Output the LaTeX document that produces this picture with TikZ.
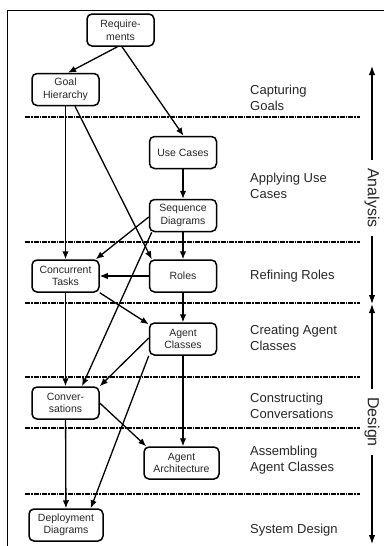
\documentclass[tikz,border=0pt]{standalone}
\usepackage{fontspec}
\setmainfont{Liberation Sans}
\usetikzlibrary{arrows.meta}

\tikzset{
  stagebox/.style={draw, line width=1.5pt, rounded corners=5pt, minimum width=67pt, minimum height=32pt, inner sep=1pt, align=center, text=black!85, font=\fontsize{10.5}{12.5}\selectfont},
  phase/.style={anchor=west, align=left, inner sep=0pt, text=black!85, font=\fontsize{13}{16.5}\selectfont},
  flow/.style={line width=1.3pt, -{Latex[length=8pt,width=6.5pt]}},
  divider/.style={line width=1.1pt, dash pattern=on 5pt off 1pt on 1.5pt off 1pt},
  sidelabel/.style={rotate=-90, inner xsep=8pt, inner ysep=0pt, text=black!85, font=\fontsize{16}{18}\selectfont},
  sidearrow/.style={line width=1.2pt, -{Latex[length=9pt,width=6.5pt]}}
}

\begin{document}
\begin{tikzpicture}[x=1pt, y=-1pt]
    \useasboundingbox (0,0) rectangle (384,546);
    \draw[line width=0.8pt] (7,546) -- (7,10) -- (384,10);

    \foreach \y in {117,242,303,377,428,494}
        \draw[divider] (25,\y) -- (360,\y);

    \node[stagebox] (req)      at (120.5,30)  {Require-\\ments};
    \node[stagebox] (goals)    at (65.5,89.5) {Goal\\Hierarchy};
    \node[stagebox] (usecases) at (183,152.5) {Use Cases};
    \node[stagebox] (seqdiag)  at (183,215.5) {Sequence\\Diagrams};
    \node[stagebox] (tasks)    at (65.5,276)  {Concurrent\\Tasks};
    \node[stagebox] (roles)    at (183,276)   {Roles};
    \node[stagebox] (agents)   at (183,339)   {Agent\\Classes};
    \node[stagebox] (conv)     at (65.5,403)  {Conver-\\sations};
    \node[stagebox, minimum width=75pt] (arch)   at (181.5,463) {Agent\\Architecture};
    \node[stagebox, minimum width=74pt] (deploy) at (66,525)    {Deployment\\Diagrams};

    \node[phase] (capturing)    at (250,98)  {Capturing\\Goals};
    \node[phase] (applying)     at (250,186) {Applying Use\\Cases};
    \node[phase] (refining)     at (250,276) {Refining Roles};
    \node[phase] (creating)     at (250,338) {Creating Agent\\Classes};
    \node[phase] (constructing) at (250,406) {Constructing\\Conversations};
    \node[phase] (assembling)   at (250,460) {Assembling\\Agent Classes};
    \node[phase] (system)       at (250,530) {System Design};

    \draw[flow] ([xshift=-3pt]req.south) -- ([xshift=2.5pt]goals.north);
    \draw[flow] ([xshift=1.5pt]req.south) -- ([xshift=0.5pt]usecases.north);
    \draw[flow] (goals.south) -- (tasks.north);
    \draw[flow] ([xshift=9.5pt]goals.south) -- ([xshift=3pt]roles.north west);
    \draw[flow] (usecases) -- (seqdiag);
    \draw[flow] ([yshift=-1.5pt]seqdiag.west) -- ([xshift=-4pt]tasks.north east);
    \draw[flow] (seqdiag) -- (roles);
    \draw[flow] ([xshift=3pt]seqdiag.south west) -- ([xshift=16.5pt]conv.north);
    \draw[flow] (roles) -- (tasks);
    \draw[flow] (roles) -- (agents);
    \draw[flow] (tasks.south east) -- ([yshift=-2pt]agents.north west);
    \draw[flow] (tasks) -- (conv);
    \draw[flow] ([yshift=1pt]agents.west) -- (conv.north east);
    \draw[flow] (conv.east) -- ([xshift=3pt]arch.north west);
    \draw[flow] (agents.south) -- (agents.south |- arch.north);
    \draw[flow] (conv) -- (deploy);
    \draw[flow] (agents.south west) -- ([xshift=-13pt]deploy.north east);

    \node[sidelabel] (analysis) at (372,198) {Analysis};
    \node[sidelabel] (design)   at (372,422) {Design};
    \coordinate (analysistop) at (372,66);
    \coordinate (analysisend) at (372,304);
    \coordinate (designtop)   at (372,304);
    \coordinate (designend)   at (372,544);
    \draw[sidearrow] (analysis.west) -- (analysistop);
    \draw[sidearrow] (analysis.east) -- (analysisend);
    \draw[sidearrow] (design.west) -- (designtop);
    \draw[sidearrow] (design.east) -- (designend);
\end{tikzpicture}
\end{document}
